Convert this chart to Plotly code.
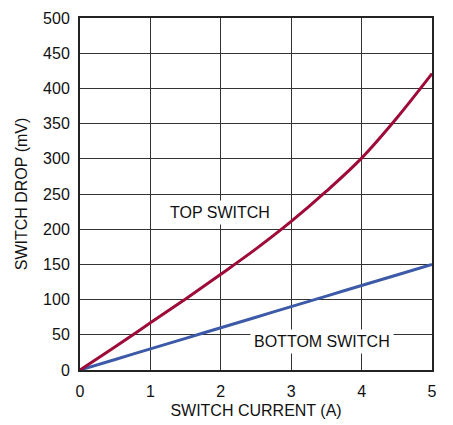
import plotly.graph_objects as go

current = [0, 0.5, 1, 1.5, 2, 2.5, 3, 3.5, 4, 4.5, 5]
top_switch = [0, 33, 67, 101, 136, 172, 211, 254, 301, 358, 421]
bottom_switch = [0, 15, 30, 45, 60, 75, 90, 105, 120, 135, 150]
x_ticks = [0, 1, 2, 3, 4, 5]
y_ticks = [0, 50, 100, 150, 200, 250, 300, 350, 400, 450, 500]

font = "Liberation Sans, Arial"

fig = go.Figure()
fig.add_trace(go.Scatter(x=current, y=bottom_switch, mode="lines",
                         line=dict(color="#3D5AA8", width=3, shape="spline")))
fig.add_trace(go.Scatter(x=current, y=top_switch, mode="lines",
                         line=dict(color="#9E0B38", width=3, shape="spline", smoothing=1)))

fig.add_annotation(x=1.99, y=224, text="TOP SWITCH", showarrow=False,
                   bgcolor="white", font=dict(family=font, size=16, color="#111"),
                   borderpad=3)
fig.add_annotation(x=3.44, y=41, text="BOTTOM SWITCH", showarrow=False,
                   bgcolor="white", font=dict(family=font, size=16, color="#111"),
                   borderpad=3)

fig.update_layout(
    width=445, height=417,
    margin=dict(l=72, r=21, t=10, b=55, autoexpand=False),
    paper_bgcolor="white", plot_bgcolor="white",
    showlegend=False,
    font=dict(family=font, size=16, color="#111"),
    xaxis=dict(range=[0, 5], tickvals=x_ticks, showgrid=True, gridcolor="#333",
               gridwidth=1, zeroline=False, showline=True, linecolor="#222",
               linewidth=2, mirror=True, ticks="", automargin=False,
               ticklabelstandoff=6,
               title=dict(text="SWITCH CURRENT (A)", font=dict(size=16), standoff=6)),
    yaxis=dict(range=[0, 500], tickvals=y_ticks, showgrid=True, gridcolor="#333",
               gridwidth=1, zeroline=False, showline=True, linecolor="#222",
               linewidth=2, mirror=True, ticks="", automargin=False,
               ticklabelstandoff=5,
               title=dict(text="SWITCH DROP (mV)", font=dict(size=16), standoff=11)),
)

fig.write_html("out.html")
